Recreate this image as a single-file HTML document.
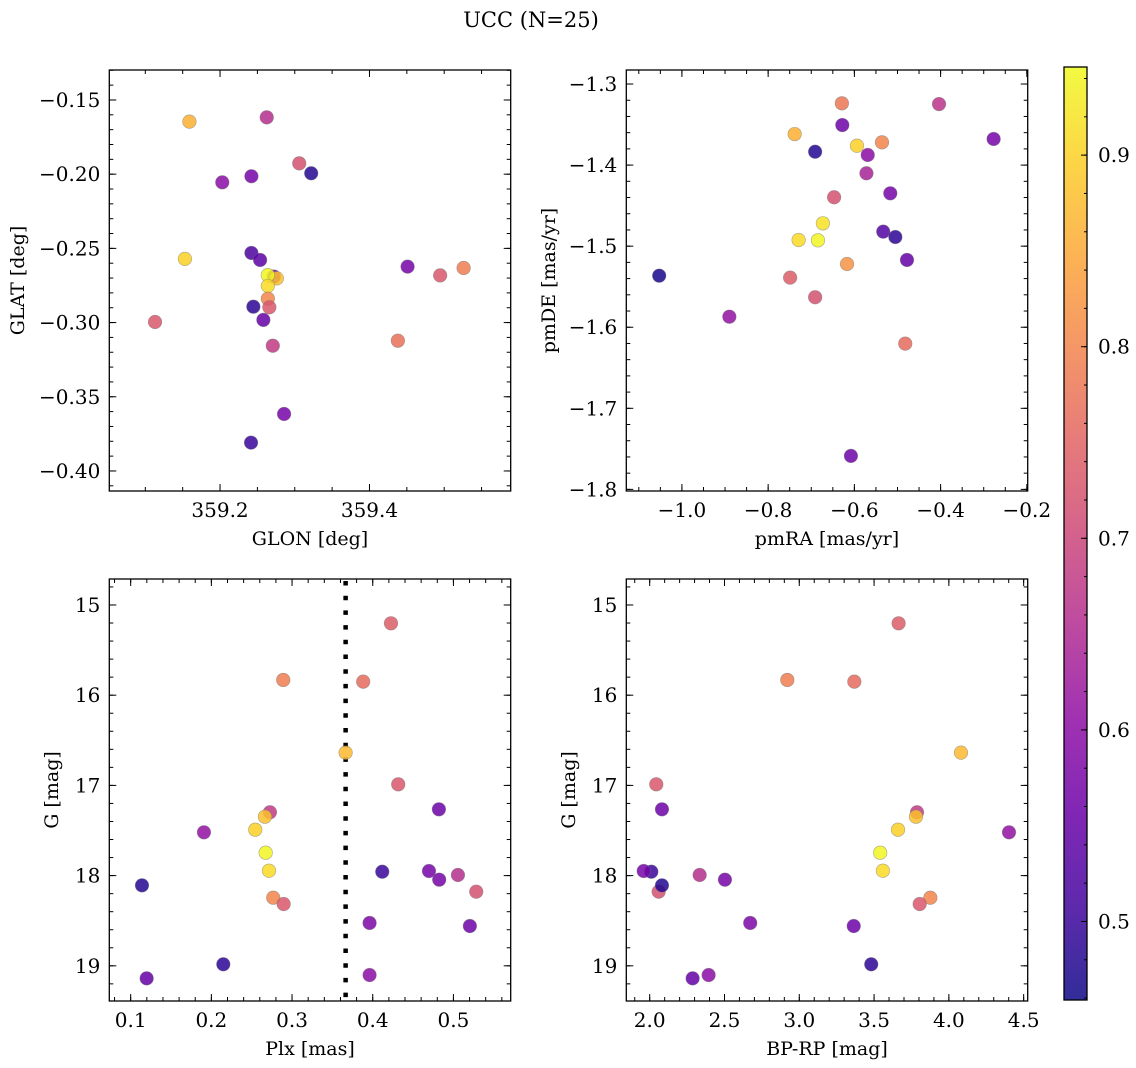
<!DOCTYPE html>
<html><head><meta charset="utf-8">
<style>
html,body{margin:0;padding:0;background:#fff;}
svg{display:block;font-family:"DejaVu Serif","Liberation Serif",serif;}
</style></head>
<body>
<svg id="fig" width="1136" height="1068" viewBox="0 0 1136 1068" xmlns="http://www.w3.org/2000/svg">
<rect width="1136" height="1068" fill="#fff"/>
<text x="531" y="27" font-size="21" text-anchor="middle">UCC (N=25)</text>
</svg>
<script>
// ---- data ----
const glon = [359.159,359.2625,359.306,359.322,359.203,359.242,359.153,359.242,359.2536,359.272,359.276,359.264,359.264,359.264,359.266,359.2446,359.258,359.2706,359.113,359.451,359.4946,359.526,359.438,359.2857,359.2415];
const glat = [-0.1646,-0.1617,-0.1927,-0.1994,-0.2055,-0.2014,-0.2571,-0.2531,-0.2578,-0.269,-0.2702,-0.268,-0.2753,-0.2839,-0.2897,-0.2893,-0.2982,-0.3156,-0.2996,-0.2623,-0.2682,-0.2632,-0.3122,-0.3616,-0.3809];
const probA = [0.86,0.66,0.72,0.48,0.60,0.57,0.90,0.52,0.54,0.58,0.88,0.94,0.91,0.80,0.73,0.49,0.55,0.68,0.73,0.57,0.73,0.79,0.77,0.57,0.50];
const pmra = [-0.629,-0.628,-0.7385,-0.691,-0.594,-0.536,-0.569,-0.572,-0.4037,-0.277,-0.647,-0.5167,-0.673,-0.7293,-0.6845,-0.533,-0.505,-0.478,-0.617,-1.0527,-0.749,-0.691,-0.890,-0.482,-0.608];
const pmde = [-1.3238,-1.3506,-1.3617,-1.3835,-1.3761,-1.3719,-1.3875,-1.4101,-1.3247,-1.3678,-1.4397,-1.4348,-1.4718,-1.4924,-1.4928,-1.4821,-1.4887,-1.517,-1.522,-1.5364,-1.5388,-1.563,-1.587,-1.6202,-1.7587];
const probB = [0.78,0.56,0.86,0.48,0.90,0.80,0.60,0.64,0.67,0.57,0.72,0.57,0.92,0.91,0.94,0.53,0.49,0.55,0.82,0.47,0.74,0.72,0.61,0.76,0.56];
const plx = [0.4226,0.2891,0.3882,0.3664,0.4316,0.482,0.2726,0.2664,0.1908,0.2544,0.2673,0.2714,0.4118,0.4697,0.4824,0.5056,0.5283,0.114,0.2767,0.2896,0.3961,0.5204,0.2148,0.1198,0.3961];
const gmag = [15.203,15.831,15.850,16.637,16.988,17.265,17.298,17.347,17.52,17.491,17.746,17.946,17.957,17.949,18.045,17.993,18.178,18.108,18.245,18.315,18.525,18.559,18.983,19.139,19.102];
const bprp = [3.664,2.92,3.368,4.081,2.044,2.082,3.787,3.78,4.402,3.66,3.541,3.559,2.011,1.96,2.503,2.334,2.06,2.082,3.876,3.805,2.672,3.364,3.481,2.287,2.394];
const probC = [0.74,0.79,0.76,0.87,0.73,0.56,0.68,0.88,0.61,0.90,0.94,0.91,0.50,0.57,0.57,0.66,0.72,0.48,0.80,0.73,0.58,0.56,0.49,0.55,0.60];
const plxLine = 0.3664;
const cbTicks = [0.5,0.6,0.7,0.8,0.9];

const NS='http://www.w3.org/2000/svg';
const svg=document.getElementById('fig');
function mk(tag,attrs,parent){const e=document.createElementNS(NS,tag);for(const k in attrs)e.setAttribute(k,attrs[k]);(parent||svg).appendChild(e);return e;}

const vmin=0.459,vmax=0.946;
const stops=[[13,8,135],[65,4,157],[106,0,168],[143,13,164],[177,42,144],[204,71,120],[225,100,98],[242,132,75],[252,166,54],[252,206,37],[240,249,33]];
function plasma(t){t=Math.max(0,Math.min(1,t));const f=t*10,i=Math.min(9,Math.floor(f)),r=f-i;const a=stops[i],b=stops[i+1];
 return 'rgb('+[0,1,2].map(k=>Math.round(a[k]+(b[k]-a[k])*r)).join(',')+')';}
function cmap(v){return plasma((v-vmin)/(vmax-vmin));}
function fmt(v,d){const s=Math.abs(v).toFixed(d);return (v<-1e-9?'\u2212':'')+s;}
const FS=20;

function panel(o){
 const g=mk('g',{});
 
 
 const X=v=>o.L+(v-o.x0)/(o.x1-o.x0)*(o.R-o.L);
 const Y=o.inv? v=>o.T+(v-o.y0)/(o.y1-o.y0)*(o.B-o.T) : v=>o.B-(v-o.y0)/(o.y1-o.y0)*(o.B-o.T);
 const tk=mk('g',{stroke:'#000','stroke-width':1},g);
 
 
 function xt(v,len){const x=X(v);if(x<o.L-0.5||x>o.R+0.5)return;mk('line',{x1:x,x2:x,y1:o.B,y2:o.B-len},tk);mk('line',{x1:x,x2:x,y1:o.T,y2:o.T+len},tk);}
 function yt(v,len){const y=Y(v);if(y<o.T-0.5||y>o.B+0.5)return;mk('line',{x1:o.L,x2:o.L+len,y1:y,y2:y},tk);mk('line',{x1:o.R,x2:o.R-len,y1:y,y2:y},tk);}
 const lo=Math.min(o.x0,o.x1),hi=Math.max(o.x0,o.x1);
 for(let v=Math.ceil(lo/o.xmin)*o.xmin;v<=hi;v+=o.xmin)xt(v,4);
 const ylo=Math.min(o.y0,o.y1),yhi=Math.max(o.y0,o.y1);
 for(let v=Math.ceil(ylo/o.ymin)*o.ymin;v<=yhi;v+=o.ymin)yt(v,4);
 o.xt.forEach(v=>{xt(v,7);const t=mk('text',{x:X(v),y:o.B+26,'font-size':FS,'text-anchor':'middle'},g);t.textContent=fmt(v,o.xd);});
 o.yt.forEach(v=>{yt(v,7);const t=mk('text',{x:o.L-9,y:Y(v)+7,'font-size':FS,'text-anchor':'end'},g);t.textContent=fmt(v,o.yd);});
 const fr=mk('rect',{x:o.L,y:o.T,width:o.R-o.L,height:o.B-o.T,fill:'none',stroke:'#000','stroke-width':1.3},g);
 
 
 if(o.vline!==undefined){const l=mk('line',{x1:X(o.vline),x2:X(o.vline),y1:o.T+2,y2:o.B,stroke:'#000','stroke-width':4.5,'stroke-dasharray':'4.5 10.2'},g);
  
  }
 const pts=mk('g',{},g);
 
 
 o.xs.forEach((xv,i)=>{const c=mk('circle',{cx:X(xv),cy:Y(o.ys[i]),r:6.8,fill:cmap(o.cs[i]),'fill-opacity':0.85,stroke:'#777','stroke-opacity':0.6,'stroke-width':0.6},pts);
  
  });
 const xl=mk('text',{x:(o.L+o.R)/2,y:o.B+54,'font-size':FS-1,'text-anchor':'middle'},g);xl.textContent=o.xlabel;
 
 
 const yl=mk('text',{x:0,y:0,'font-size':FS-1,'text-anchor':'middle',transform:'translate('+o.ylx+','+(o.T+o.B)/2+') rotate(-90)'},g);yl.textContent=o.ylabel;
 
 
}

panel({name:'glon-glat-panel',L:109.3,R:510.7,T:70,B:491,x0:359.0518,x1:359.589,y0:-0.4135,y1:-0.1298,xmin:0.05,ymin:0.01,
 xt:[359.2,359.4],xd:1,yt:[-0.40,-0.35,-0.30,-0.25,-0.20,-0.15],yd:2,xs:glon,ys:glat,cs:probA,xlabel:'GLON [deg]',ylabel:'GLAT [deg]',ylx:24});
panel({name:'pm-panel',L:626.3,R:1027.7,T:70,B:491,x0:-1.129,x1:-0.198,y0:-1.802,y1:-1.2827,xmin:0.05,ymin:0.02,
 xt:[-1.0,-0.8,-0.6,-0.4,-0.2],xd:1,yt:[-1.8,-1.7,-1.6,-1.5,-1.4,-1.3],yd:1,xs:pmra,ys:pmde,cs:probB,xlabel:'pmRA [mas/yr]',ylabel:'pmDE [mas/yr]',ylx:555});
panel({name:'plx-g-panel',L:109.3,R:510.7,T:579,B:1001,x0:0.0735,x1:0.571,y0:14.712,y1:19.39,inv:true,xmin:0.02,ymin:0.2,
 xt:[0.1,0.2,0.3,0.4,0.5],xd:1,yt:[15,16,17,18,19],yd:0,xs:plx,ys:gmag,cs:probC,xlabel:'Plx [mas]',ylabel:'G [mag]',ylx:58,vline:plxLine});
panel({name:'cmd-panel',L:626.3,R:1027.7,T:579,B:1001,x0:1.8436,x1:4.527,y0:14.712,y1:19.39,inv:true,xmin:0.1,ymin:0.2,
 xt:[2.0,2.5,3.0,3.5,4.0,4.5],xd:1,yt:[15,16,17,18,19],yd:0,xs:bprp,ys:gmag,cs:probC,xlabel:'BP-RP [mag]',ylabel:'G [mag]',ylx:575});

(function(){
 const L=1064,R=1087,T=67,B=1000;
 const g=mk('g',{});
 
 
 const defs=mk('defs',{},g);
 const lg=mk('linearGradient',{id:'cbg',x1:0,y1:1,x2:0,y2:0},defs);
 for(let i=0;i<=20;i++){mk('stop',{offset:(i/20),'stop-color':plasma(i/20),'stop-opacity':0.85},lg);}
 mk('rect',{x:L,y:T,width:R-L,height:B-T,fill:'url(#cbg)'},g);
 const Y=v=>B-(v-vmin)/(vmax-vmin)*(B-T);
 for(let v=0.46;v<=0.946;v+=0.02){const y=Y(v);mk('line',{x1:R,x2:R-3,y1:y,y2:y,stroke:'#000','stroke-width':1},g);}
 cbTicks.forEach(v=>{const y=Y(v);mk('line',{x1:R,x2:R-6,y1:y,y2:y,stroke:'#000','stroke-width':1},g);
  const t=mk('text',{x:R+11,y:y+7,'font-size':FS},g);t.textContent=v.toFixed(1);
  
  });
 mk('rect',{x:L,y:T,width:R-L,height:B-T,fill:'none',stroke:'#000','stroke-width':1.3},g);
})();
</script>
</body></html>
